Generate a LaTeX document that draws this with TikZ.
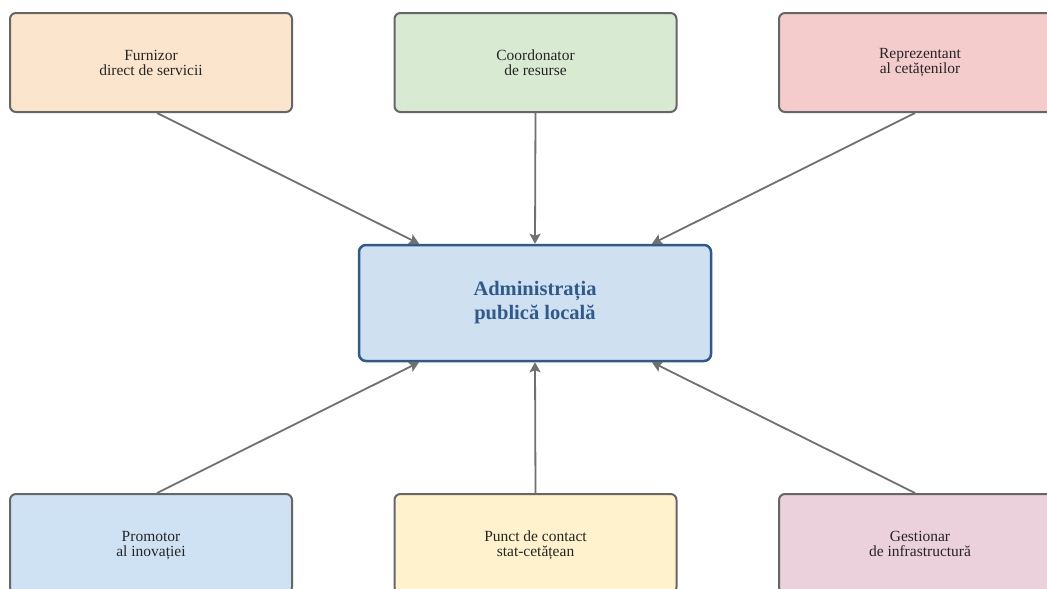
\documentclass[tikz,border=0pt]{standalone}
\usepackage{fontspec}
\setmainfont{Liberation Serif}
\usetikzlibrary{arrows.meta,calc}
\definecolor{edge}{HTML}{666666}
\definecolor{link}{HTML}{707070}
\definecolor{admblue}{HTML}{2E5B8C}
\definecolor{admfill}{HTML}{CFE0F1}
\definecolor{cOrange}{HTML}{FCE5CD}
\definecolor{cGreen}{HTML}{D9EAD3}
\definecolor{cRed}{HTML}{F4CCCC}
\definecolor{cBlue}{HTML}{CFE2F3}
\definecolor{cYellow}{HTML}{FFF2CC}
\definecolor{cPink}{HTML}{EAD1DC}
\begin{document}
\begin{tikzpicture}[x=1pt,y=-1pt,
  rolebox/.style={draw=edge,line width=2pt,rounded corners=6pt,
    minimum width=282pt,minimum height=99pt,align=center,inner sep=0pt,
    font=\fontsize{15.5}{15}\selectfont,text=black!85},
  rolelabel/.style={align=center,inner sep=0pt,
    font=\fontsize{15.5}{15}\selectfont,text=black!85},
  central/.style={draw=admblue,line width=2.5pt,rounded corners=7pt,
    fill=admfill,minimum width=352pt,minimum height=116pt,align=center,
    inner sep=0pt,font=\fontsize{20.5}{24}\selectfont\bfseries,text=admblue},
  link/.style={draw=link,line width=1.8pt,-{Stealth[length=10pt,width=11pt,inset=2pt]}}]
\useasboundingbox (0,0) rectangle (1047,589);
\clip (0,0) rectangle (1047,589);
\fill[white] (0,0) rectangle (1047,589);

% top row
\node[rolebox,fill=cOrange] (t1) at (151,62.5) {Furnizor\\direct de servicii};
\node[rolebox,fill=cGreen]  (t2) at (535.5,62.5) {Coordonator\\de resurse};
\node[rolebox,fill=cRed]    (t3) at (920,62.5) {Reprezentant\\al cetățenilor};

% bottom row (boxes run past the lower edge; labels placed separately)
\node[rolebox,fill=cBlue]   (b1) at (151,543.5) {};
\node[rolebox,fill=cYellow] (b2) at (535.5,543.5) {};
\node[rolebox,fill=cPink]   (b3) at (920,543.5) {};
\node[rolelabel,anchor=base] (l1) at (151,556) {Promotor\\al inovației};
\node[rolelabel,anchor=base] (l2) at (535.5,556) {Punct de contact\\stat-cetățean};
\node[rolelabel,anchor=base] (l3) at (920,556) {Gestionar\\de infrastructură};

% centre
\node[central] (adm) at (535,303) {Administrația\\publică locală};

% attachment points on the central box
\coordinate (nL) at ($(adm.north west)!0.173!(adm.north east)$);
\coordinate (nR) at ($(adm.north west)!0.83!(adm.north east)$);
\coordinate (sL) at ($(adm.south west)!0.173!(adm.south east)$);
\coordinate (sR) at ($(adm.south west)!0.83!(adm.south east)$);

\draw[link] ($(t1.south)+(6,0)$) -- (nL);
\draw[link] (t2.south) -- (adm.north);
\draw[link] ($(t3.south)+(-5,0)$) -- (nR);
\draw[link] ($(b1.north)+(6,0)$) -- (sL);
\draw[link] (b2.north) -- (adm.south);
\draw[link] ($(b3.north)+(-5,0)$) -- (sR);
\end{tikzpicture}
\end{document}
